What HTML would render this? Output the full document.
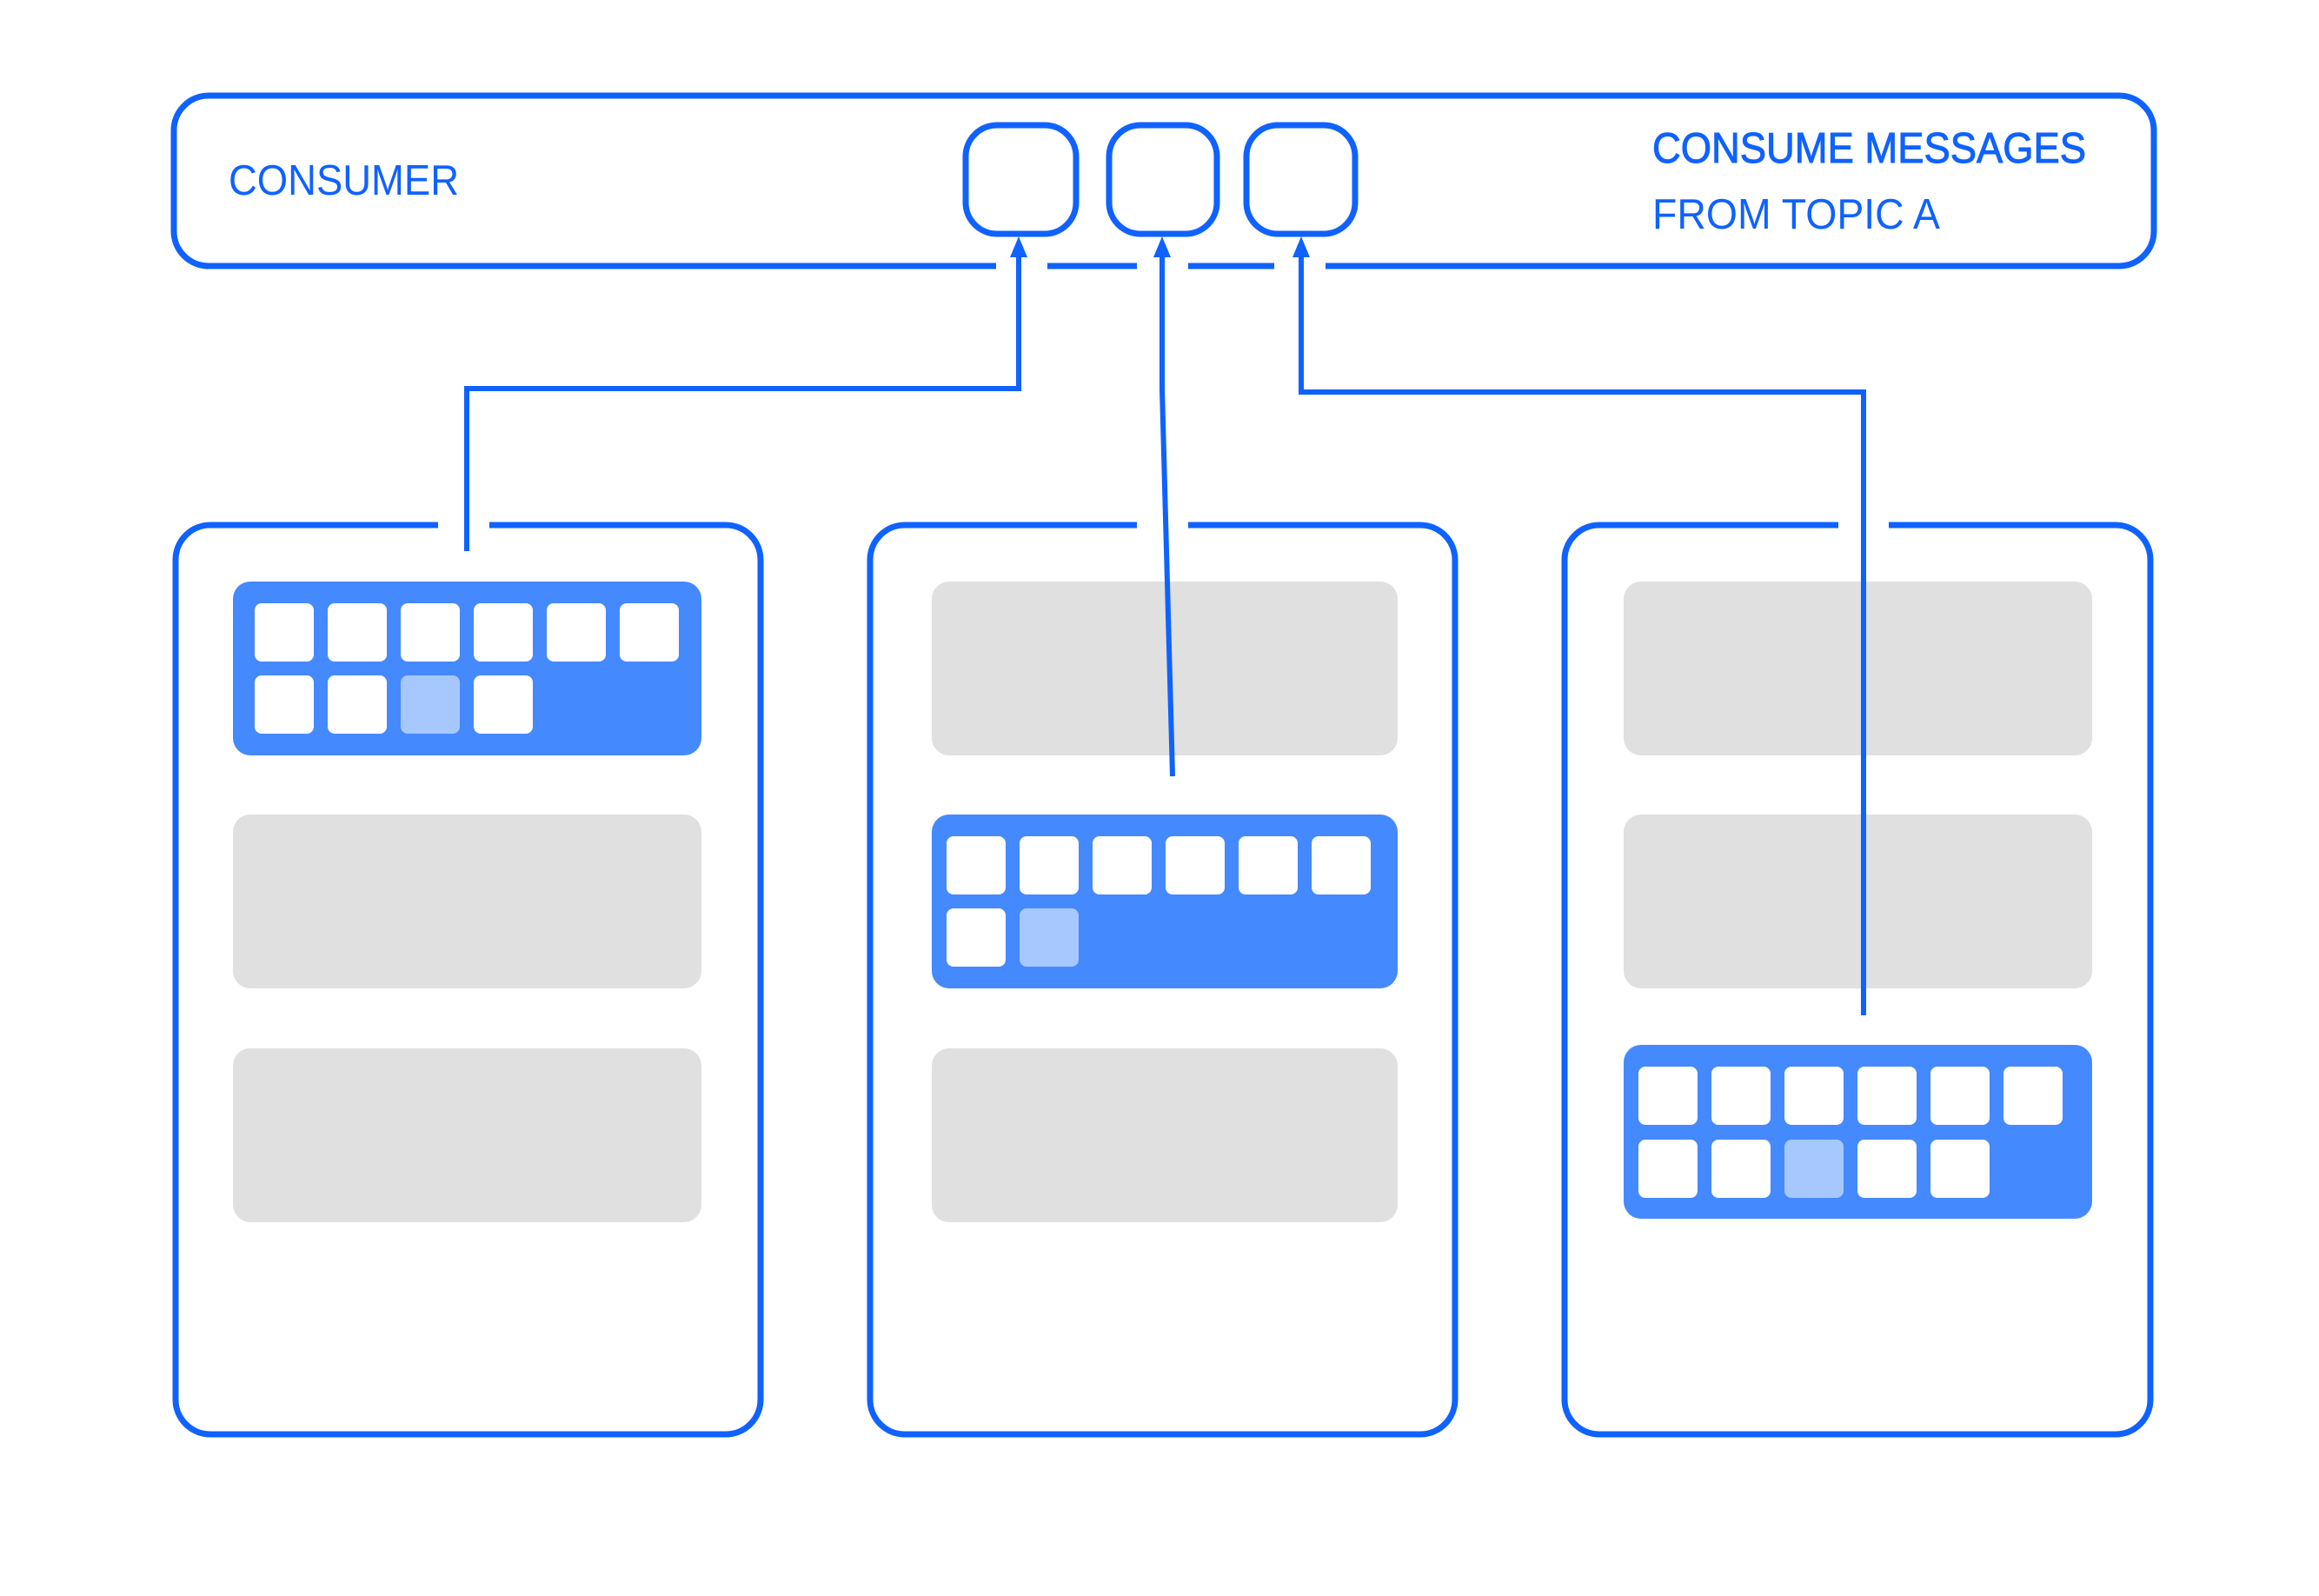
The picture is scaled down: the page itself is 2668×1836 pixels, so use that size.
<!DOCTYPE html>
<html><head><meta charset="utf-8"><style>html,body{margin:0;padding:0;background:#fff}svg{display:block}</style></head>
<body>
<svg width="2668" height="1836" viewBox="0 0 2668 1836" xmlns="http://www.w3.org/2000/svg">
<g fill="none" stroke="#0f62fe" stroke-width="7">
<path d="M1146,306 H240 A40,40 0 0 1 200,266 V150 A40,40 0 0 1 240,110 H2438 A40,40 0 0 1 2478,150 V266 A40,40 0 0 1 2438,306 H1525"/>
<path d="M1205,306 H1308 M1367,306 H1466"/>
<rect x="1111" y="144" width="127" height="125" rx="36"/>
<rect x="1276" y="144" width="124" height="125" rx="36"/>
<rect x="1434" y="144" width="125" height="125" rx="36"/>
<path d="M504,604 H242 A40,40 0 0 0 202,644 V1610 A40,40 0 0 0 242,1650 H835 A40,40 0 0 0 875,1610 V644 A40,40 0 0 0 835,604 H563"/>
<path d="M1308,604 H1041 A40,40 0 0 0 1001,644 V1610 A40,40 0 0 0 1041,1650 H1634 A40,40 0 0 0 1674,1610 V644 A40,40 0 0 0 1634,604 H1367"/>
<path d="M2115,604 H1840 A40,40 0 0 0 1800,644 V1610 A40,40 0 0 0 1840,1650 H2434 A40,40 0 0 0 2474,1610 V644 A40,40 0 0 0 2434,604 H2173"/>
</g>
<g fill="#e0e0e0">
<rect x="268" y="937" width="539" height="200" rx="20"/>
<rect x="268" y="1206" width="539" height="200" rx="20"/>
<rect x="1072" y="669" width="536" height="200" rx="20"/>
<rect x="1072" y="1206" width="536" height="200" rx="20"/>
<rect x="1868" y="669" width="539" height="200" rx="20"/>
<rect x="1868" y="937" width="539" height="200" rx="20"/>
</g>
<g fill="#4589ff">
<rect x="268" y="669" width="539" height="200" rx="20"/>
<rect x="1072" y="937" width="536" height="200" rx="20"/>
<rect x="1868" y="1202" width="539" height="200" rx="20"/>
</g>
<g fill="#fff">
<rect x="293" y="694" width="68" height="67" rx="8"/><rect x="377" y="694" width="68" height="67" rx="8"/><rect x="461" y="694" width="68" height="67" rx="8"/><rect x="545" y="694" width="68" height="67" rx="8"/><rect x="629" y="694" width="68" height="67" rx="8"/><rect x="713" y="694" width="68" height="67" rx="8"/>
<rect x="293" y="777" width="68" height="67" rx="8"/><rect x="377" y="777" width="68" height="67" rx="8"/><rect x="461" y="777" width="68" height="67" rx="8" fill="#a6c8ff"/><rect x="545" y="777" width="68" height="67" rx="8"/>
<rect x="1089" y="962" width="68" height="67" rx="8"/><rect x="1173" y="962" width="68" height="67" rx="8"/><rect x="1257" y="962" width="68" height="67" rx="8"/><rect x="1341" y="962" width="68" height="67" rx="8"/><rect x="1425" y="962" width="68" height="67" rx="8"/><rect x="1509" y="962" width="68" height="67" rx="8"/>
<rect x="1089" y="1045" width="68" height="67" rx="8"/><rect x="1173" y="1045" width="68" height="67" rx="8" fill="#a6c8ff"/>
<rect x="1885" y="1227" width="68" height="67" rx="8"/><rect x="1969" y="1227" width="68" height="67" rx="8"/><rect x="2053" y="1227" width="68" height="67" rx="8"/><rect x="2137" y="1227" width="68" height="67" rx="8"/><rect x="2221" y="1227" width="68" height="67" rx="8"/><rect x="2305" y="1227" width="68" height="67" rx="8"/>
<rect x="1885" y="1311" width="68" height="67" rx="8"/><rect x="1969" y="1311" width="68" height="67" rx="8"/><rect x="2053" y="1311" width="68" height="67" rx="8" fill="#a6c8ff"/><rect x="2137" y="1311" width="68" height="67" rx="8"/><rect x="2221" y="1311" width="68" height="67" rx="8"/>
</g>
<g fill="none" stroke="#0f62fe" stroke-width="6">
<polyline points="1172,285 1172,447 537,447 537,634"/>
<polyline points="1337,285 1337,448 1349,893"/>
<polyline points="1497,285 1497,451 2144,451 2144,1168"/>
</g>
<g fill="#0f62fe">
<polygon points="1172,272 1162,296 1182,296"/>
<polygon points="1337,272 1327,296 1347,296"/>
<polygon points="1497,272 1487,296 1507,296"/>
</g>
<g fill="#0f62fe" font-family="'Liberation Sans', sans-serif" font-size="49">
<text x="263" y="224" textLength="265" lengthAdjust="spacingAndGlyphs">CONSUMER</text>
<text x="1901" y="187" textLength="499" lengthAdjust="spacingAndGlyphs" stroke="#0f62fe" stroke-width="1">CONSUME MESSAGES</text>
<text x="1901" y="263" textLength="331" lengthAdjust="spacingAndGlyphs">FROM TOPIC A</text>
</g>
</svg>
</body></html>
